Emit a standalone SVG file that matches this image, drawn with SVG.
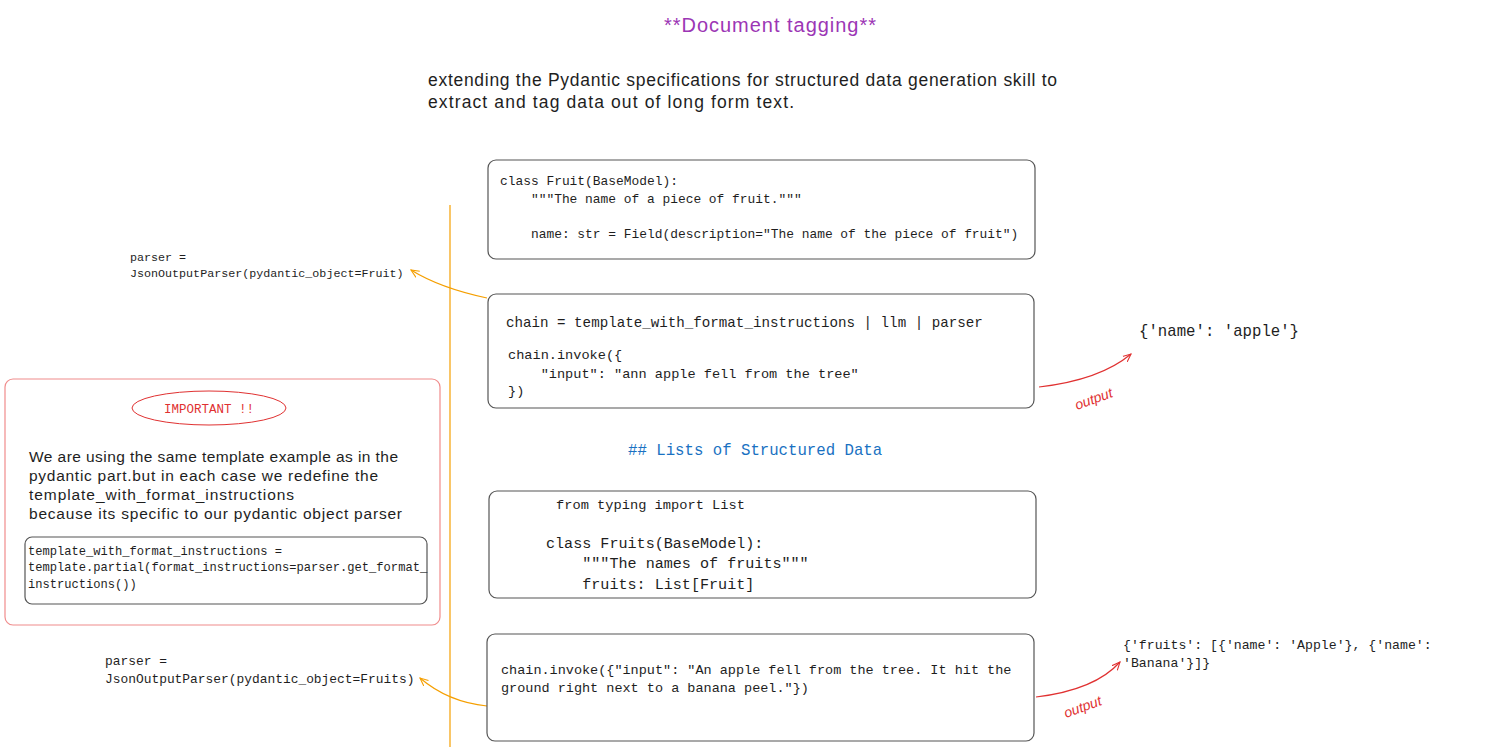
<svg xmlns="http://www.w3.org/2000/svg" width="1489" height="747" viewBox="0 0 1489 747">
<style>
.box{fill:#fff;stroke:#555;stroke-width:1.2}
.code{font-family:"Liberation Mono","DejaVu Sans Mono",monospace;fill:#1e1e1e;white-space:pre}
.hand{font-family:"Liberation Sans","Noto Sans",sans-serif;fill:#1e1e1e}
.out{font-family:"Liberation Sans",sans-serif;fill:#e03131;font-size:14px;font-style:italic}
</style>
<defs>
<marker id="ao" viewBox="0 0 10 10" refX="9" refY="5" markerWidth="9" markerHeight="9" orient="auto-start-reverse" markerUnits="userSpaceOnUse"><path d="M0,1 L9,5 L0,9" fill="none" stroke="#f59f00" stroke-width="1.2"/></marker>
<marker id="ar" viewBox="0 0 10 10" refX="9" refY="5" markerWidth="9" markerHeight="9" orient="auto-start-reverse" markerUnits="userSpaceOnUse"><path d="M0,1 L9,5 L0,9" fill="none" stroke="#e03131" stroke-width="1.2"/></marker>
</defs>
<rect width="1489" height="747" fill="#fff"/>

<g id="title"><text x="664" y="32" textLength="212" class="hand" style="fill:#9c36b5;font-size:20px">**Document tagging**</text></g>
<g id="intro" class="hand" style="font-size:17.5px">
<text x="428" y="86" textLength="629">extending the Pydantic specifications for structured data generation skill to</text>
<text x="428" y="108" textLength="366">extract and tag data out of long form text.</text>
</g>

<g id="connectors" fill="none">
<line x1="450" y1="205" x2="450" y2="747" stroke="#f59f00" stroke-width="1.2"/>
<path d="M487,298 Q440,288 411,270" stroke="#f59f00" stroke-width="1.2" marker-end="url(#ao)"/>
<path d="M487,706 Q448,702 420,678" stroke="#f59f00" stroke-width="1.2" marker-end="url(#ao)"/>
<path d="M1039,387 Q1100,380 1131,354" stroke="#e03131" stroke-width="1.2" marker-end="url(#ar)"/>
<path d="M1036,697 Q1095,690 1120,662" stroke="#e03131" stroke-width="1.2" marker-end="url(#ar)"/>
<text x="1077" y="410" class="out" transform="rotate(-20 1077 410)">output</text>
<text x="1066" y="718" class="out" transform="rotate(-20 1066 718)">output</text>
</g>

<g id="box-fruit">
<rect x="488" y="160" width="547" height="99" rx="8" class="box"/>
<text class="code" style="font-size:12.9px"><tspan x="500" y="185">class Fruit(BaseModel):</tspan><tspan x="500" y="203">    """The name of a piece of fruit."""</tspan><tspan x="500" y="238">    name: str = Field(description="The name of the piece of fruit")</tspan></text>
</g>

<g id="parser1"><text class="code" style="font-size:11.7px"><tspan x="130" y="261">parser =</tspan><tspan x="130" y="277">JsonOutputParser(pydantic_object=Fruit)</tspan></text></g>

<g id="box-chain">
<rect x="488" y="294" width="546" height="114" rx="8" class="box"/>
<text class="code" style="font-size:14.2px"><tspan x="506" y="327">chain = template_with_format_instructions | llm | parser</tspan></text>
<text class="code" style="font-size:13.6px"><tspan x="508" y="359">chain.invoke({</tspan><tspan x="508" y="378">    "input": "ann apple fell from the tree"</tspan><tspan x="508" y="395">})</tspan></text>
</g>

<g id="out1"><text x="1139" y="336" class="code" style="font-size:15.7px">{'name': 'apple'}</text></g>

<g id="heading2"><text x="628" y="455" class="code" style="font-size:15.7px;fill:#1971c2">## Lists of Structured Data</text></g>

<g id="box-fruits">
<rect x="489" y="491" width="547" height="107" rx="8" class="box"/>
<text x="556" y="509" class="code" style="font-size:13.7px">from typing import List</text>
<text class="code" style="font-size:15.1px"><tspan x="546" y="548">class Fruits(BaseModel):</tspan><tspan x="546" y="568">    """The names of fruits"""</tspan><tspan x="546" y="589">    fruits: List[Fruit]</tspan></text>
</g>

<g id="box-invoke">
<rect x="487" y="634" width="547" height="107" rx="8" class="box"/>
<text class="code" style="font-size:13.5px"><tspan x="501" y="674">chain.invoke({"input": "An apple fell from the tree. It hit the</tspan><tspan x="501" y="692">ground right next to a banana peel."})</tspan></text>
</g>

<g id="parser2"><text class="code" style="font-size:12.9px"><tspan x="105" y="665">parser =</tspan><tspan x="105" y="683">JsonOutputParser(pydantic_object=Fruits)</tspan></text></g>

<g id="out2"><text class="code" style="font-size:13.2px"><tspan x="1123" y="649">{'fruits': [{'name': 'Apple'}, {'name':</tspan><tspan x="1123" y="667">'Banana'}]}</tspan></text></g>

<g id="important">
<rect x="5" y="379" width="435" height="246" rx="8" fill="#fff" stroke="#f08c8c" stroke-width="1.2"/>
<ellipse cx="209" cy="408" rx="77" ry="17" fill="#fff" stroke="#e03131" stroke-width="1"/>
<text x="209" y="413" text-anchor="middle" class="code" style="font-size:12.5px;fill:#e03131">IMPORTANT !!</text>
<g class="hand" style="font-size:15.5px">
<text x="29" y="462" textLength="369">We are using the same template example as in the</text>
<text x="29" y="481" textLength="349">pydantic part.but in each case we redefine the</text>
<text x="29" y="500" textLength="265">template_with_format_instructions</text>
<text x="29" y="519" textLength="373">because its specific to our pydantic object parser</text>
</g>
<rect x="25" y="537" width="402" height="67" rx="7" class="box"/>
<text class="code" style="font-size:12.1px"><tspan x="28" y="555">template_with_format_instructions =</tspan><tspan x="28" y="571">template.partial(format_instructions=parser.get_format_</tspan><tspan x="28" y="588">instructions())</tspan></text>
</g>
</svg>
